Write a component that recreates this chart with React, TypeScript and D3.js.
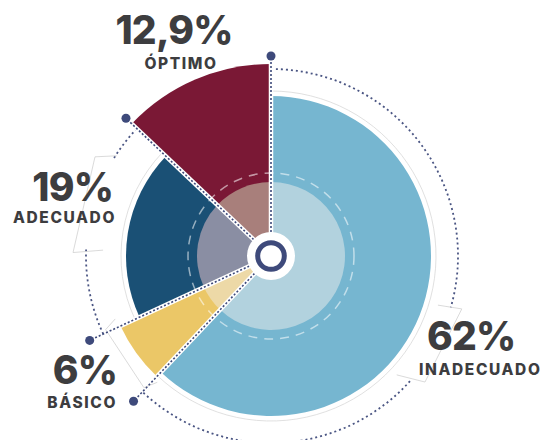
import { useEffect, useRef } from "react";
import * as d3 from "d3";

// data
const categories = ["INADECUADO", "BÁSICO", "ADECUADO", "ÓPTIMO"];
const values = [62, 6, 19, 12.9];
const valueLabels = ["62%", "6%", "19%", "12,9%"];

// styles per slice
const colors = ["#76B6D0", "#EBC767", "#1A5075", "#7A1835"];
const innerColors = ["#B2D2DE", "#EDD9A7", "#8A8EA3", "#A87F7B"];
const outerRadii = [160, 166, 145, 192];

const W = 550;
const H = 440;
const cx = 271;
const cy = 256;
const navy = "#3E4A7B";
const textColor = "#3D3D3F";

// label placement (value line + name line)
const labelLayout = [
  { vx: 427, vy: 350, nx: 419, ny: 375, anchor: "start" },
  { vx: 117, vy: 384, nx: 117, ny: 408, anchor: "end" },
  { vx: 113, vy: 201, nx: 116, ny: 223, anchor: "end" },
  { vx: 174, vy: 44, nx: 181, ny: 69, anchor: "middle" },
];

// dotted guide arcs with a gap where the label sits (degrees)
const guideArcs = [
  { slice: 0, r: 187, gap: [106, 132] },
  { slice: 2, r: 185, gap: [272, 302] },
];

// faint bracket shapes near labels, polar [deg, r]
const brackets: [number, number][][] = [
  [[106.4, 174], [105.5, 198], [129.3, 199], [133.4, 173]],
  [[272, 168], [271, 198], [299.4, 202], [303, 184]],
  [[248, 168], [246, 181], [224, 183], [222, 170]],
];

const rad = (deg: number) => (deg * Math.PI) / 180;
const px = (a: number, r: number) => r * Math.sin(a);
const py = (a: number, r: number) => -r * Math.cos(a);

export default function App() {
  const svgRef = useRef<SVGSVGElement>(null);

  useEffect(() => {
    if (!svgRef.current) return;
    const svg = d3.select(svgRef.current);
    svg.selectAll("*").remove();

    const pie = d3
      .pie<number>()
      .sort(null)
      .value((d) => d);
    const arcs = pie(values);

    const g = svg.append("g").attr("transform", `translate(${cx},${cy})`);

    // thin gray outlines just outside some slices
    [0, 2].forEach((i) => {
      const a = arcs[i];
      const p = d3.path();
      p.arc(0, 0, outerRadii[i] + 5, a.startAngle - Math.PI / 2, a.endAngle - Math.PI / 2);
      g.append("path")
        .attr("d", p.toString())
        .attr("fill", "none")
        .attr("stroke", "#D8D8D8")
        .attr("stroke-width", 0.8);
    });

    // slices
    g.selectAll("path.slice")
      .data(arcs)
      .join("path")
      .attr("class", "slice")
      .attr("d", (d, i) =>
        d3.arc<d3.PieArcDatum<number>>().innerRadius(0).outerRadius(outerRadii[i])(d)
      )
      .attr("fill", (d, i) => colors[i]);

    // lighter inner disc
    g.selectAll("path.inner")
      .data(arcs)
      .join("path")
      .attr("class", "inner")
      .attr("d", (d) => d3.arc<d3.PieArcDatum<number>>().innerRadius(0).outerRadius(74)(d))
      .attr("fill", (d, i) => innerColors[i]);

    // dashed ring
    g.append("circle")
      .attr("r", 83)
      .attr("fill", "none")
      .attr("stroke", "rgba(255,255,255,0.55)")
      .attr("stroke-width", 1.5)
      .attr("stroke-dasharray", "9 7");

    // guide arcs
    guideArcs.forEach((ga) => {
      const a = arcs[ga.slice];
      const segs = [
        [a.startAngle, rad(ga.gap[0])],
        [rad(ga.gap[1]), a.endAngle],
      ];
      segs.forEach(([s, e]) => {
        const p = d3.path();
        p.arc(0, 0, ga.r, s - Math.PI / 2, e - Math.PI / 2);
        g.append("path")
          .attr("d", p.toString())
          .attr("fill", "none")
          .attr("stroke", "#4A5583")
          .attr("stroke-width", 1.8)
          .attr("stroke-dasharray", "2 3");
      });
    });

    // faint brackets
    brackets.forEach((pts) => {
      g.append("path")
        .attr(
          "d",
          d3.line()(pts.map(([deg, r]) => [px(rad(deg), r), py(rad(deg), r)]))
        )
        .attr("fill", "none")
        .attr("stroke", "#D0D0D0")
        .attr("stroke-width", 0.8);
    });

    // slice boundaries
    const bounds = arcs.map((a, i) => ({
      angle: a.startAngle,
      rMax: Math.max(outerRadii[i], outerRadii[(i + arcs.length - 1) % arcs.length]),
    }));

    bounds.forEach((b) => {
      g.append("line")
        .attr("x1", px(b.angle, 20))
        .attr("y1", py(b.angle, 20))
        .attr("x2", px(b.angle, b.rMax))
        .attr("y2", py(b.angle, b.rMax))
        .attr("stroke", "#fff")
        .attr("stroke-width", 4.5);
      g.append("line")
        .attr("x1", px(b.angle, 24))
        .attr("y1", py(b.angle, 24))
        .attr("x2", px(b.angle, 200))
        .attr("y2", py(b.angle, 200))
        .attr("stroke", navy)
        .attr("stroke-width", 1.6)
        .attr("stroke-dasharray", "2 2");
      g.append("circle")
        .attr("cx", px(b.angle, 200))
        .attr("cy", py(b.angle, 200))
        .attr("r", 4.5)
        .attr("fill", navy);
    });

    // center
    g.append("circle").attr("r", 24).attr("fill", "#fff");
    g.append("circle")
      .attr("r", 13.3)
      .attr("fill", "#fff")
      .attr("stroke", navy)
      .attr("stroke-width", 5);

    // labels
    const labels = svg
      .append("g")
      .attr("fill", textColor)
      .attr("font-family", "Inter, 'Open Sans', sans-serif");
    categories.forEach((c, i) => {
      const l = labelLayout[i];
      labels
        .append("text")
        .attr("x", l.vx)
        .attr("y", l.vy)
        .attr("text-anchor", l.anchor)
        .attr("font-size", 39)
        .attr("font-weight", 800)
        .attr("letter-spacing", -0.8)
        .text(valueLabels[i]);
      labels
        .append("text")
        .attr("x", l.nx)
        .attr("y", l.ny)
        .attr("text-anchor", l.anchor)
        .attr("font-size", 15.5)
        .attr("font-weight", 800)
        .attr("letter-spacing", 1.6)
        .text(c);
    });
  }, []);

  return (
    <div style={{ position: "absolute", left: 0, top: 0, width: W, height: H, background: "#fff" }}>
      <svg ref={svgRef} width={W} height={H} />
    </div>
  );
}
